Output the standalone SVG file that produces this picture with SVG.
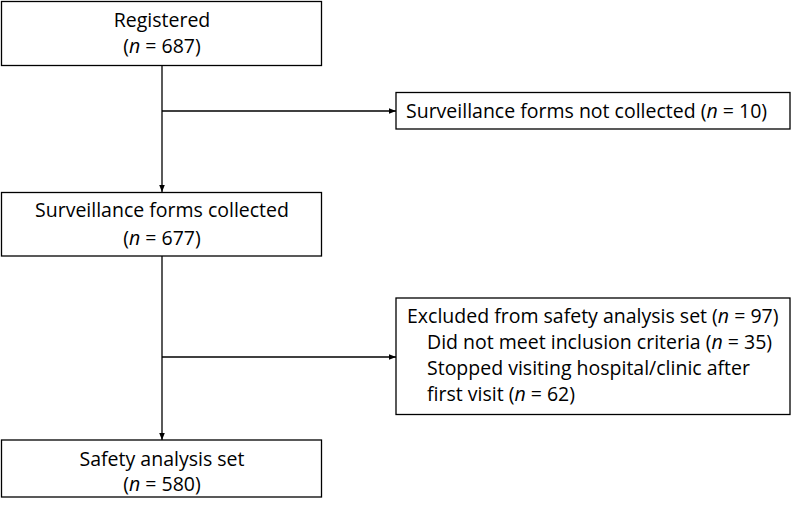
<svg xmlns="http://www.w3.org/2000/svg" width="797" height="505" viewBox="0 0 797 505">
<defs>
<marker id="ah" viewBox="0 0 10 10" refX="10" refY="5" markerWidth="7" markerHeight="7" markerUnits="userSpaceOnUse" orient="auto">
<path d="M0,1 L10,5 L0,9 z" fill="#000"/>
</marker>
<style>
.box{fill:#fff;stroke:#000;stroke-width:1.3}
.t{font-family:"Open Sans","Noto Sans",sans-serif;font-size:19.5px;fill:#000}
.c{text-anchor:middle}
.ln{stroke:#000;stroke-width:1.3;fill:none}
</style>
</defs>
<rect width="797" height="505" fill="#fff"/>
<g id="connectors">
<line class="ln" x1="162" y1="66" x2="162" y2="192" marker-end="url(#ah)"/>
<line class="ln" x1="162" y1="111" x2="396" y2="111" marker-end="url(#ah)"/>
<line class="ln" x1="162" y1="256" x2="162" y2="440" marker-end="url(#ah)"/>
<line class="ln" x1="162" y1="357" x2="396" y2="357" marker-end="url(#ah)"/>
</g>
<g id="registered">
<rect class="box" x="1.5" y="1.5" width="320" height="64"/>
<text class="t c" x="162" y="27">Registered</text>
<text class="t c" x="162" y="53">(<tspan font-style="italic">n</tspan> = 687)</text>
</g>
<g id="not-collected">
<rect class="box" x="396" y="92.5" width="394" height="36.5"/>
<text class="t" x="406" y="118">Surveillance forms not collected (<tspan font-style="italic">n</tspan> = 10)</text>
</g>
<g id="collected">
<rect class="box" x="1.5" y="192.5" width="320" height="63.5"/>
<text class="t c" x="162" y="217">Surveillance forms collected</text>
<text class="t c" x="162" y="245">(<tspan font-style="italic">n</tspan> = 677)</text>
</g>
<g id="excluded">
<rect class="box" x="396" y="298" width="394" height="116.5"/>
<text class="t" x="407" y="323">Excluded from safety analysis set (<tspan font-style="italic">n</tspan> = 97)</text>
<text class="t" x="427" y="349">Did not meet inclusion criteria (<tspan font-style="italic">n</tspan> = 35)</text>
<text class="t" x="427" y="375">Stopped visiting hospital/clinic after</text>
<text class="t" x="427" y="401">first visit (<tspan font-style="italic">n</tspan> = 62)</text>
</g>
<g id="safety">
<rect class="box" x="1.5" y="440" width="320" height="57"/>
<text class="t c" x="162" y="466">Safety analysis set</text>
<text class="t c" x="162" y="491">(<tspan font-style="italic">n</tspan> = 580)</text>
</g>
</svg>
